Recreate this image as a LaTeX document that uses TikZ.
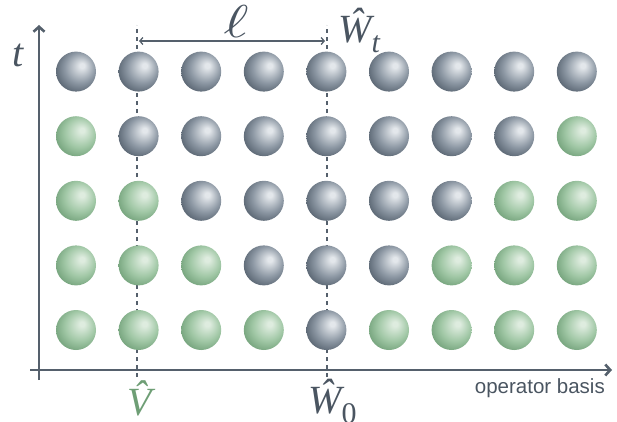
\documentclass[tikz,border=0pt]{standalone}
\usepackage{fontspec}
\newfontfamily\basisfont{Liberation Sans}
\newfontfamily\labelfont{Liberation Serif}
\DeclareFontShape{OML}{cmm}{m}{it}{<->cmmi10}{}
\usetikzlibrary{arrows.meta}
\definecolor{axis}{HTML}{55606C}
\definecolor{labelink}{HTML}{4A5561}
\definecolor{vgreen}{HTML}{6E9E75}
\definecolor{slatelight}{HTML}{E3E7EB}
\definecolor{slatemid}{HTML}{8D98A4}
\definecolor{slatedark}{HTML}{4E5A67}
\definecolor{leaflight}{HTML}{DEECDF}
\definecolor{leafmid}{HTML}{A0C7A5}
\definecolor{leafdark}{HTML}{6B9B73}
\pgfdeclareradialshading{slateball}{\pgfpoint{8bp}{8bp}}{color(0bp)=(slatelight); color(3bp)=(slatelight); color(19bp)=(slatemid); color(33bp)=(slatedark); color(50bp)=(slatedark)}
\pgfdeclareradialshading{leafball}{\pgfpoint{8bp}{8bp}}{color(0bp)=(leaflight); color(3bp)=(leaflight); color(19bp)=(leafmid); color(33bp)=(leafdark); color(50bp)=(leafdark)}
\newcommand{\ColX}{76}
\newcommand{\ColStep}{62.6}
\newcommand{\RowY}{91}
\newcommand{\RowStep}{64.6}
\newcommand{\Vx}{137}
\newcommand{\Wx}{327}
\newcommand{\lowsub}[1]{\raisebox{-10pt}{\fontsize{30}{30}\selectfont #1}}

\begin{document}
\begin{tikzpicture}[x=1pt, y=1pt, labelink,
    axisline/.style={axis, line width=2.6pt, -{Straight Barb[length=5pt, width=11pt]}},
    guide/.style={axis, line width=2pt, dash pattern=on 4pt off 4pt},
    span/.style={axis, line width=1.3pt, {Straight Barb[length=3pt, width=7pt]}-{Straight Barb[length=3pt, width=7pt]}},
    sphere/.style={circle, minimum size=40pt, inner sep=0pt, shade},
    bigmath/.style={inner sep=0pt, font=\labelfont\itshape\fontsize{40}{44}\selectfont},
  ]
% --- Page ----------------------------------------------------------------------------
\useasboundingbox (0,0) rectangle (617,421);

% --- Axes: time up, operator basis to the right -----------------------------------------
\draw[axisline] (39,41) -- (39,396);
\draw[axisline] (30,51) -- (612,51);

% --- Guides through V and W, and the distance between them ---------------------------------
\coordinate (v-bot) at (\Vx,44);
\coordinate (v-top) at (\Vx,396);
\coordinate (w-bot) at (\Wx,44);
\coordinate (w-top) at (\Wx,396);
\draw[guide] (v-bot) -- (v-top);
\draw[guide] (w-bot) -- (w-top);
\coordinate (ell-a) at (\Vx+2,380);
\coordinate (ell-b) at (\Wx-2,380);
\draw[span] (ell-a) -- (ell-b);

% --- The spheres: grey inside the cone of W, green outside -------------------------------
\foreach \r in {0,...,4} {
  \foreach \c in {0,...,8} {
    \pgfmathtruncatemacro\dist{abs(\c-4)}
    \ifnum\dist>\r \def\kind{leafball}\else\def\kind{slateball}\fi
    \node[sphere, shading=\kind] (s-\c-\r) at (\ColX+\c*\ColStep, \RowY+\r*\RowStep) {};
  }
}

% --- Labels ----------------------------------------------------------------------------
\node[bigmath, anchor=base] (t-label) at (18,354) {t};
\node[bigmath, anchor=base] (ell-label) at (236,383) {\scalebox{1.3}[1]{\fontsize{46}{50}\selectfont$\ell$}};
\node[bigmath, anchor=base west] (wt-label) at (338,378) {Ŵ\lowsub{t}};
\node[bigmath, anchor=base, text=vgreen] (v-label) at (140,6) {V̂};
\node[bigmath, anchor=base west] (w0-label) at (308,8) {Ŵ\lowsub{\upshape 0}};
\node[inner sep=0pt, anchor=base east, font=\basisfont\fontsize{20.5}{24}\selectfont] (basis-label) at (605,28) {operator basis};
\end{tikzpicture}
\end{document}
